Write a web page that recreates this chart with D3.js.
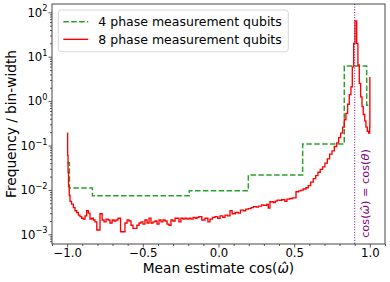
<!DOCTYPE html>
<html><head><meta charset="utf-8">
<script src="https://cdn.jsdelivr.net/npm/d3@7"></script>
<style>body{margin:0;background:#fff} svg{display:block} text{font-family:"DejaVu Sans",sans-serif;fill:#000}</style>
</head><body><svg id="c" width="390" height="282"></svg>
<script>
// ---- data ----
const xTicks = [-1.0, -0.5, 0.0, 0.5, 1.0];
const xTickLabels = ["−1.0", "−0.5", "0.0", "0.5", "1.0"];
const yTickExps = [-3, -2, -1, 0, 1, 2];
const trueCos = 0.9;
const seriesNames = ["4 phase measurement qubits", "8 phase measurement qubits"];

const greenX = [-1.0, -0.985, -0.833, -0.193, 0.197, 0.556, 0.831, 0.979, 1.0];
const greenY = [0.041, 0.011, 0.0074, 0.0096, 0.0216, 0.108, 6.2, 0.81, 0.81];

const redX = [-1.000,-0.9967,-0.994,-0.9908,-0.986,-0.981,-0.971,-0.959,-0.948,-0.937,-0.926,-0.915,-0.904,-0.893,-0.882,-0.871,-0.860,-0.849,-0.838,-0.827,-0.816,-0.804,-0.783,-0.769,-0.756,-0.743,-0.730,-0.717,-0.703,-0.690,-0.677,-0.664,-0.647,-0.618,-0.604,-0.591,-0.578,-0.565,-0.539,-0.525,-0.512,-0.499,-0.486,-0.472,-0.459,-0.446,-0.433,-0.419,-0.406,-0.393,-0.380,-0.367,-0.353,-0.340,-0.327,-0.314,-0.301,-0.287,-0.274,-0.261,-0.248,-0.234,-0.221,-0.208,-0.195,-0.182,-0.168,-0.155,-0.142,-0.129,-0.110,-0.089,-0.070,-0.056,-0.040,-0.023,-0.005,0.010,0.028,0.043,0.060,0.076,0.090,0.110,0.131,0.145,0.164,0.180,0.197,0.215,0.230,0.250,0.263,0.285,0.300,0.318,0.329,0.340,0.362,0.375,0.388,0.405,0.417,0.439,0.452,0.470,0.490,0.512,0.530,0.545,0.560,0.578,0.593,0.609,0.626,0.642,0.657,0.672,0.688,0.703,0.719,0.734,0.750,0.765,0.781,0.794,0.807,0.820,0.831,0.842,0.853,0.864,0.875,0.884,0.893,0.902,0.913,0.921,0.930,0.939,0.948,0.956,0.966,0.974,0.983,0.992,0.9987,1.000];
const redY = [0.19,0.06,0.025,0.012,0.0075,0.0055,0.0048,0.0040,0.0034,0.0031,0.0027,0.0025,0.0023,0.0022,0.0026,0.0034,0.0030,0.0022,0.0023,0.0021,0.0019,0.00125,0.0029,0.0021,0.0019,0.0022,0.0021,0.0018,0.0021,0.0020,0.0021,0.0023,0.00114,0.0018,0.0021,0.0020,0.0016,0.00136,0.0016,0.0018,0.0019,0.0017,0.0021,0.0018,0.0023,0.0018,0.0019,0.0020,0.0017,0.0021,0.0019,0.0021,0.0020,0.0017,0.0016,0.0021,0.0020,0.0023,0.0023,0.0019,0.0023,0.0022,0.0023,0.0022,0.0023,0.0022,0.0024,0.0023,0.0024,0.0025,0.0021,0.0023,0.0019,0.0022,0.0024,0.0025,0.0023,0.0026,0.0024,0.0027,0.0026,0.0034,0.0029,0.0031,0.0030,0.0035,0.0034,0.0037,0.0038,0.0040,0.0042,0.0041,0.0043,0.0046,0.0045,0.0047,0.0039,0.0054,0.0052,0.0056,0.0059,0.0058,0.0060,0.0055,0.0062,0.0064,0.0066,0.0091,0.0095,0.0099,0.0105,0.0112,0.0125,0.0150,0.018,0.021,0.025,0.029,0.033,0.040,0.050,0.064,0.076,0.095,0.115,0.150,0.19,0.26,0.38,0.53,0.85,1.4,2.1,5.9,20,64,20,6.5,2.5,1.25,0.75,0.50,0.36,0.26,0.21,0.19,0.26,3.5];

// ---- layout ----
const L = 52, R = 385, T = 4, B = 244;
const svg = d3.select("#c");
const x = d3.scaleLinear().domain([-1.1, 1.1]).range([L, R]);
const y = d3.scaleLog().domain([Math.pow(10, -3.218), Math.pow(10, 2.187)]).range([B, T]);

svg.append("defs").append("clipPath").attr("id", "clip")
  .append("rect").attr("x", L).attr("y", T).attr("width", R - L).attr("height", B - T);

const plot = svg.append("g").attr("clip-path", "url(#clip)");

const line = d3.line().x(d => x(d[0])).y(d => y(d[1])).curve(d3.curveStepAfter);

plot.append("path").datum(d3.zip(greenX, greenY))
  .attr("d", line).attr("fill", "none").attr("stroke", "#2ca02c")
  .attr("stroke-width", 1.5).attr("stroke-dasharray", "5.5,2.4");

plot.append("path").datum(d3.zip(redX, redY))
  .attr("d", line).attr("fill", "none").attr("stroke", "#ff0000")
  .attr("stroke-width", 1.35).attr("stroke-linejoin", "miter");

plot.append("line").attr("x1", x(trueCos)).attr("x2", x(trueCos)).attr("y1", T).attr("y2", B)
  .attr("stroke", "#800080").attr("stroke-width", 1).attr("stroke-dasharray", "1,1.65");

// ---- axes ----
const xAxis = svg.append("g").attr("transform", `translate(0,${B})`)
  .call(d3.axisBottom(x).tickValues(xTicks).tickSize(3.5).tickFormat((d, i) => xTickLabels[i]));
const xMinor = [];
for (let k = -11; k <= 11; k++) { if (k % 5 !== 0) xMinor.push(k / 10); }
svg.append("g").attr("transform", `translate(0,${B})`)
  .call(d3.axisBottom(x).tickValues(xMinor).tickSize(2).tickFormat(""));

const yAxis = svg.append("g").attr("transform", `translate(${L},0)`)
  .call(d3.axisLeft(y).tickValues(yTickExps.map(e => Math.pow(10, e))).tickSize(3.5).tickFormat(""));
const yMinor = [];
for (let e = -4; e <= 2; e++) for (let m = 2; m <= 9; m++) {
  const v = m * Math.pow(10, e);
  if (v >= y.domain()[0] && v <= y.domain()[1]) yMinor.push(v);
}
svg.append("g").attr("transform", `translate(${L},0)`)
  .call(d3.axisLeft(y).tickValues(yMinor).tickSize(2).tickFormat(""));

svg.selectAll(".domain").remove();
svg.selectAll(".tick line").attr("stroke", "#333").attr("stroke-width", 0.8);

xAxis.selectAll(".tick text").attr("font-size", 11.7).attr("y", 5).attr("dy", "0.71em")
  .attr("font-family", "DejaVu Sans").attr("fill", "#000");

yTickExps.forEach(e => {
  const t = svg.append("text").attr("x", 47.5).attr("y", y(Math.pow(10, e)) + 4.2)
    .attr("text-anchor", "end").attr("font-size", 11.7);
  t.append("tspan").text("10");
  t.append("tspan").attr("font-size", 8.2).attr("dy", -5.2).text(e < 0 ? "−" + (-e) : String(e));
});

// frame
svg.append("rect").attr("x", L).attr("y", T).attr("width", R - L).attr("height", B - T)
  .attr("fill", "none").attr("stroke", "#333").attr("stroke-width", 0.9);

// labels
const xl = svg.append("text").attr("x", (L + R) / 2).attr("y", 273.3).attr("text-anchor", "middle").attr("font-size", 13.7);
xl.append("tspan").text("Mean estimate cos(");
xl.append("tspan").attr("font-style", "italic").text("ω\u0302");
xl.append("tspan").text(")");

svg.append("text").attr("transform", `translate(15.5,${(T + B) / 2}) rotate(-90)`)
  .attr("text-anchor", "middle").attr("font-size", 13.7).text("Frequency / bin-width");

const ann = svg.append("text").attr("transform", `translate(368.5,193.5) rotate(-90)`)
  .attr("text-anchor", "middle").attr("font-size", 11.3).style("fill", "#800080");
ann.append("tspan").text("cos(");
ann.append("tspan").attr("font-style", "italic").text("ω\u0302");
ann.append("tspan").text(") = cos(");
ann.append("tspan").attr("font-style", "italic").text("θ");
ann.append("tspan").text(")");

// legend
const lg = svg.append("g");
lg.append("rect").attr("x", 58.3).attr("y", 10).attr("width", 230).attr("height", 41.7).attr("rx", 3)
  .attr("fill", "#fff").attr("fill-opacity", 0.8).attr("stroke", "#ccc").attr("stroke-width", 0.8);
const legendStyles = [{c: "#2ca02c", dash: "5.5,2.4", w: 1.5}, {c: "#ff0000", dash: null, w: 1.35}];
[21.7, 39.3].forEach((yy, i) => {
  lg.append("line").attr("x1", 63.3).attr("x2", 88.3).attr("y1", yy).attr("y2", yy)
    .attr("stroke", legendStyles[i].c).attr("stroke-width", legendStyles[i].w)
    .attr("stroke-dasharray", legendStyles[i].dash);
  lg.append("text").attr("x", 98.3).attr("y", yy + 4.5).attr("font-size", 12.5).text(seriesNames[i]);
});
</script></body></html>
